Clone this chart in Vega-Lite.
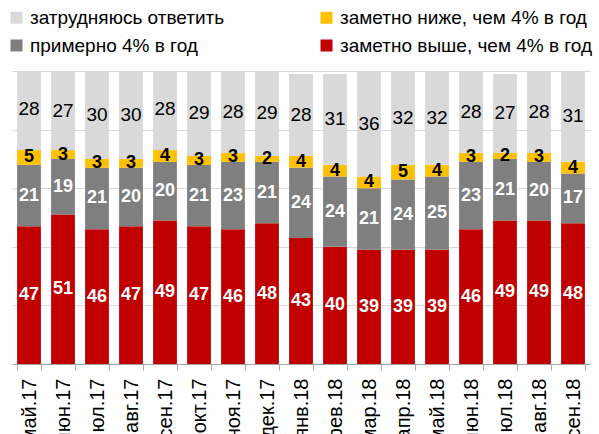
{
  "$schema": "https://vega.github.io/schema/vega-lite/v6.json",
  "width": 578,
  "height": 293,
  "autosize": {"type": "none"},
  "padding": {"left": 12, "top": 71, "right": 9, "bottom": 70},
  "config": {"font": "Liberation Sans", "view": {"stroke": null}},
  "datasets": {
    "d": [
      {"m":"май.17","c":"заметно выше, чем 4% в год","o":1,"v":47},{"m":"май.17","c":"примерно 4% в год","o":2,"v":21},{"m":"май.17","c":"заметно ниже, чем 4% в год","o":3,"v":5},{"m":"май.17","c":"затрудняюсь ответить","o":4,"v":28},
      {"m":"июн.17","c":"заметно выше, чем 4% в год","o":1,"v":51},{"m":"июн.17","c":"примерно 4% в год","o":2,"v":19},{"m":"июн.17","c":"заметно ниже, чем 4% в год","o":3,"v":3},{"m":"июн.17","c":"затрудняюсь ответить","o":4,"v":27},
      {"m":"июл.17","c":"заметно выше, чем 4% в год","o":1,"v":46},{"m":"июл.17","c":"примерно 4% в год","o":2,"v":21},{"m":"июл.17","c":"заметно ниже, чем 4% в год","o":3,"v":3},{"m":"июл.17","c":"затрудняюсь ответить","o":4,"v":30},
      {"m":"авг.17","c":"заметно выше, чем 4% в год","o":1,"v":47},{"m":"авг.17","c":"примерно 4% в год","o":2,"v":20},{"m":"авг.17","c":"заметно ниже, чем 4% в год","o":3,"v":3},{"m":"авг.17","c":"затрудняюсь ответить","o":4,"v":30},
      {"m":"сен.17","c":"заметно выше, чем 4% в год","o":1,"v":49},{"m":"сен.17","c":"примерно 4% в год","o":2,"v":20},{"m":"сен.17","c":"заметно ниже, чем 4% в год","o":3,"v":4},{"m":"сен.17","c":"затрудняюсь ответить","o":4,"v":28},
      {"m":"окт.17","c":"заметно выше, чем 4% в год","o":1,"v":47},{"m":"окт.17","c":"примерно 4% в год","o":2,"v":21},{"m":"окт.17","c":"заметно ниже, чем 4% в год","o":3,"v":3},{"m":"окт.17","c":"затрудняюсь ответить","o":4,"v":29},
      {"m":"ноя.17","c":"заметно выше, чем 4% в год","o":1,"v":46},{"m":"ноя.17","c":"примерно 4% в год","o":2,"v":23},{"m":"ноя.17","c":"заметно ниже, чем 4% в год","o":3,"v":3},{"m":"ноя.17","c":"затрудняюсь ответить","o":4,"v":28},
      {"m":"дек.17","c":"заметно выше, чем 4% в год","o":1,"v":48},{"m":"дек.17","c":"примерно 4% в год","o":2,"v":21},{"m":"дек.17","c":"заметно ниже, чем 4% в год","o":3,"v":2},{"m":"дек.17","c":"затрудняюсь ответить","o":4,"v":29},
      {"m":"янв.18","c":"заметно выше, чем 4% в год","o":1,"v":43},{"m":"янв.18","c":"примерно 4% в год","o":2,"v":24},{"m":"янв.18","c":"заметно ниже, чем 4% в год","o":3,"v":4},{"m":"янв.18","c":"затрудняюсь ответить","o":4,"v":28},
      {"m":"фев.18","c":"заметно выше, чем 4% в год","o":1,"v":40},{"m":"фев.18","c":"примерно 4% в год","o":2,"v":24},{"m":"фев.18","c":"заметно ниже, чем 4% в год","o":3,"v":4},{"m":"фев.18","c":"затрудняюсь ответить","o":4,"v":31},
      {"m":"мар.18","c":"заметно выше, чем 4% в год","o":1,"v":39},{"m":"мар.18","c":"примерно 4% в год","o":2,"v":21},{"m":"мар.18","c":"заметно ниже, чем 4% в год","o":3,"v":4},{"m":"мар.18","c":"затрудняюсь ответить","o":4,"v":36},
      {"m":"апр.18","c":"заметно выше, чем 4% в год","o":1,"v":39},{"m":"апр.18","c":"примерно 4% в год","o":2,"v":24},{"m":"апр.18","c":"заметно ниже, чем 4% в год","o":3,"v":5},{"m":"апр.18","c":"затрудняюсь ответить","o":4,"v":32},
      {"m":"май.18","c":"заметно выше, чем 4% в год","o":1,"v":39},{"m":"май.18","c":"примерно 4% в год","o":2,"v":25},{"m":"май.18","c":"заметно ниже, чем 4% в год","o":3,"v":4},{"m":"май.18","c":"затрудняюсь ответить","o":4,"v":32},
      {"m":"июн.18","c":"заметно выше, чем 4% в год","o":1,"v":46},{"m":"июн.18","c":"примерно 4% в год","o":2,"v":23},{"m":"июн.18","c":"заметно ниже, чем 4% в год","o":3,"v":3},{"m":"июн.18","c":"затрудняюсь ответить","o":4,"v":28},
      {"m":"июл.18","c":"заметно выше, чем 4% в год","o":1,"v":49},{"m":"июл.18","c":"примерно 4% в год","o":2,"v":21},{"m":"июл.18","c":"заметно ниже, чем 4% в год","o":3,"v":2},{"m":"июл.18","c":"затрудняюсь ответить","o":4,"v":27},
      {"m":"авг.18","c":"заметно выше, чем 4% в год","o":1,"v":49},{"m":"авг.18","c":"примерно 4% в год","o":2,"v":20},{"m":"авг.18","c":"заметно ниже, чем 4% в год","o":3,"v":3},{"m":"авг.18","c":"затрудняюсь ответить","o":4,"v":28},
      {"m":"сен.18","c":"заметно выше, чем 4% в год","o":1,"v":48},{"m":"сен.18","c":"примерно 4% в год","o":2,"v":17},{"m":"сен.18","c":"заметно ниже, чем 4% в год","o":3,"v":4},{"m":"сен.18","c":"затрудняюсь ответить","o":4,"v":31}
    ]
  },
  "data": {"name": "d"},
  "encoding": {
    "x": {
      "field": "m", "type": "nominal", "title": null,
      "sort": ["май.17","июн.17","июл.17","авг.17","сен.17","окт.17","ноя.17","дек.17","янв.18","фев.18","мар.18","апр.18","май.18","июн.18","июл.18","авг.18","сен.18"],
      "scale": {"paddingInner": 0.3, "paddingOuter": 0.15},
      "axis": {"labelAngle": -90, "labelFontSize": 20, "labelColor": "#000000", "labelPadding": 8, "tickBand": "extent", "tickSize": 6, "tickColor": "#a6a6a6", "domainColor": "#a6a6a6", "grid": false}
    },
    "y": {
      "field": "v", "type": "quantitative", "stack": "zero", "title": null,
      "scale": {"domain": [0, 100], "nice": false},
      "axis": {"values": [20, 40, 60, 80, 100], "labels": false, "ticks": false, "domain": false, "gridColor": "#d9d9d9", "gridWidth": 1}
    },
    "order": {"field": "o", "type": "quantitative"}
  },
  "layer": [
    {
      "mark": {"type": "bar", "clip": true},
      "encoding": {
        "color": {
          "field": "c", "type": "nominal",
          "scale": {
            "domain": ["затрудняюсь ответить", "примерно 4% в год", "заметно ниже, чем 4% в год", "заметно выше, чем 4% в год"],
            "range": ["#d9d9d9", "#7f7f7f", "#ffc000", "#c00000"]
          },
          "legend": {
            "title": null, "orient": "none", "legendX": -5, "legendY": -63, "columns": 2,
            "columnPadding": 92, "rowPadding": 8, "symbolType": "square", "symbolSize": 144,
            "symbolStrokeWidth": 0, "labelFontSize": 19, "labelColor": "#000000", "labelOffset": 4, "labelLimit": 300
          }
        }
      }
    },
    {
      "mark": {"type": "text", "fontSize": 18, "fontWeight": "bold", "baseline": "middle"},
      "encoding": {
        "y": {"field": "v", "type": "quantitative", "stack": "zero", "bandPosition": 0.5},
        "text": {"field": "v", "type": "quantitative", "condition": {"test": "datum.o == 4", "value": ""}},
        "color": {"condition": {"test": "datum.o == 3", "value": "#000000"}, "value": "#ffffff"}
      }
    },
    {
      "mark": {"type": "text", "fontSize": 19, "baseline": "middle", "color": "#000000"},
      "encoding": {
        "y": {"field": "v", "type": "quantitative", "stack": "zero", "bandPosition": 0.5},
        "text": {"field": "v", "type": "quantitative", "condition": {"test": "datum.o != 4", "value": ""}}
      }
    }
  ]
}
